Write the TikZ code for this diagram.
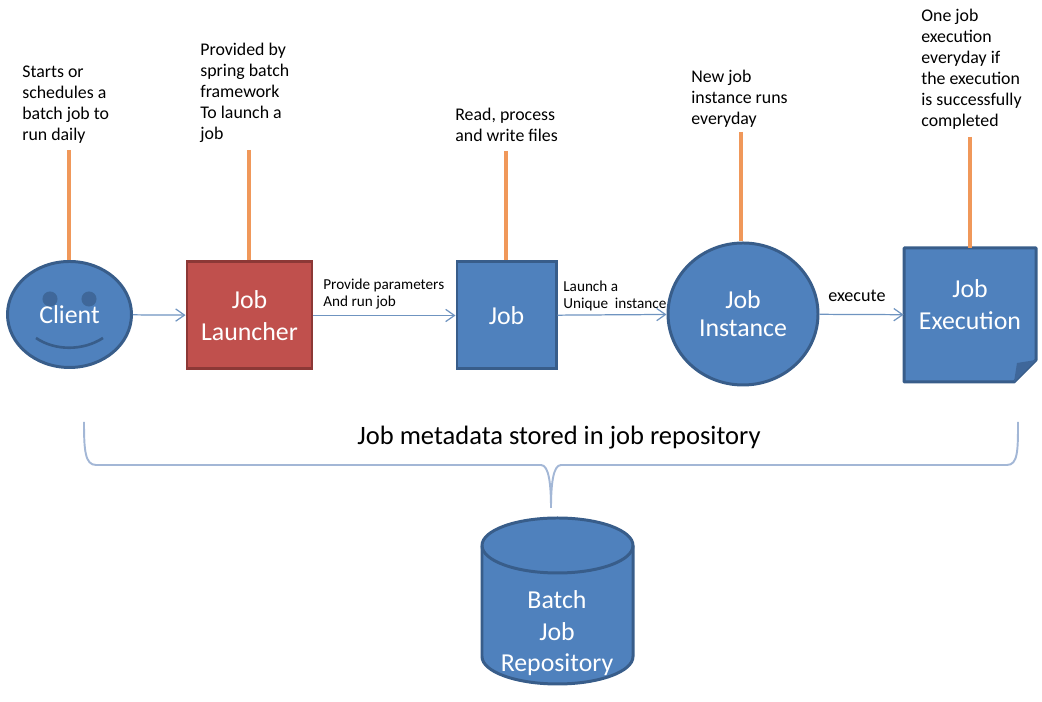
\documentclass[tikz,border=0pt]{standalone}
\usepackage{fontspec}
\setmainfont{Carlito}
\usetikzlibrary{shapes.geometric,arrows.meta}
\definecolor{boxblue}{HTML}{4F81BD}
\definecolor{boxline}{HTML}{385D8A}
\definecolor{boxred}{HTML}{C0504D}
\definecolor{redline}{HTML}{8C3836}
\definecolor{stem}{HTML}{F0985A}
\definecolor{flow}{HTML}{6F94C0}
\definecolor{brace}{HTML}{A3B7D6}
\definecolor{fold}{HTML}{3F679A}
\tikzset{
  bigtext/.style={text=white,font=\fontsize{14.7}{17.9}\selectfont,align=center,inner sep=0pt},
  bluebox/.style={bigtext,draw=boxline,fill=boxblue,line width=1.7pt},
  note/.style={right,inner sep=0pt,align=left,font=\fontsize{10.15}{11.95}\selectfont},
  small/.style={right,inner sep=0pt,align=left,font=\fontsize{8.65}{9.2}\selectfont},
  stemline/.style={stem,line width=2.5pt},
  flowline/.style={flow,line width=0.7pt,-{Straight Barb[length=5pt,width=7pt]}},
}
\begin{document}
\begin{tikzpicture}
\useasboundingbox (0,0) rectangle (20.84,14.04);

% 1st tier:
\node[bluebox,ellipse,minimum width=2.48cm,minimum height=2.12cm] (client) at (1.39,7.75) {Client};
\fill[fold,draw=boxline!70!boxblue,line width=0.6pt] (1,8.06) circle (0.14);
\fill[fold,draw=boxline!70!boxblue,line width=0.6pt] (1.78,8.06) circle (0.14);
\draw[boxline,line width=1.5pt] (0.72,7.28) .. controls (1.1,7.02) and (1.66,7.02) .. (2.06,7.28);

\node[bluebox,fill=boxred,draw=redline,minimum width=2.5cm,minimum height=2.14cm,font=\fontsize{14.7}{18.6}\selectfont] (launcher) at (4.99,7.73) {Job\\Launcher};
\node[bluebox,minimum width=1.98cm,minimum height=2.14cm] (job) at (10.13,7.73) {Job};
\node[bluebox,ellipse,minimum width=3cm,minimum height=2.84cm,font=\fontsize{14.7}{16}\selectfont] (instance) at (14.86,7.76) {Job\\Instance};

\draw[boxline,fill=boxblue,line width=1.7pt,line join=round] (18.08,9.08) -- (20.72,9.08) -- (20.72,6.84) -- (20.28,6.4) -- (18.08,6.4) -- cycle;
\fill[fold] (20.72,6.84) -- (20.34,6.78) -- (20.28,6.4) -- cycle;
\node[minimum width=2.64cm,minimum height=2.68cm,inner sep=0pt] (execution) at (19.4,7.74) {};
\node[bigtext,font=\fontsize{14.7}{18.2}\selectfont] (executiontext) at (19.4,7.94) {Job\\Execution};

\draw[flowline] (client) -- (launcher);
\draw[flowline] (launcher) -- (job);
\draw[flowline] (job) -- (instance);
\draw[flowline] (instance) -- (execution);

\node[small] (run) at (6.46,8.16) {Provide parameters\\And run job};
\node[small] (unique) at (11.26,8.12) {Launch a\\Unique\ \ instance};
\node[small,font=\fontsize{10.3}{11}\selectfont] (exec) at (16.56,8.12) {execute};

% top tier:
\node[note] (startsnote) at (0.44,11.94) {Starts or\\schedules a\\batch job to\\run daily};
\node[note] (springnote) at (4,12.18) {Provided by\\spring batch\\framework\\To launch a\\job};
\node[note] (filesnote) at (9.1,11.54) {Read, process\\and write files};
\node[note] (dailynote) at (13.82,12.06) {New job\\instance runs\\everyday};
\node[note] (oncenote) at (18.42,12.66) {One job\\execution\\everyday if\\the execution\\is successfully\\completed};

\coordinate (clienttop) at (1.38,11.04);
\coordinate (launchertop) at (4.98,11.04);
\coordinate (jobtop) at (10.12,11.02);
\coordinate (instancetop) at (14.82,11.4);
\coordinate (executiontop) at (19.4,11.3);

\draw[stemline] (clienttop) -- (clienttop |- client.north);
\draw[stemline] (launchertop) -- (launchertop |- launcher.north);
\draw[stemline] (jobtop) -- (jobtop |- job.north);
\draw[stemline] (instancetop) -- (instancetop |- instance.north);
\draw[stemline] (executiontop) -- (executiontop |- execution.north);

% repository:
\node[font=\fontsize{15.1}{16}\selectfont,inner sep=0pt] (stored) at (11.18,5.28) {Job metadata stored in job repository};

\coordinate (braceleft) at (1.68,5.6);
\coordinate (bracetip) at (11.02,3.88);
\coordinate (braceright) at (20.36,5.6);
\draw[brace,line width=1.1pt] (braceleft) .. controls (1.68,5.04) and (1.7,4.74) .. (1.92,4.74) -- (10.82,4.74)
  .. controls (10.98,4.74) and (11.02,4.34) .. (bracetip) .. controls (11.02,4.34) and (11.06,4.74) .. (11.22,4.74)
  -- (20.14,4.74) .. controls (20.36,4.74) and (20.36,5.04) .. (braceright);

\draw[boxline,fill=boxblue,line width=1.7pt] (9.64,3.13) -- (9.64,0.91) arc (180:360:1.51 and 0.55) -- (12.66,3.13) arc (0:180:1.51 and 0.55) -- cycle;
\draw[boxline,line width=1.7pt] (9.64,3.13) arc (180:360:1.51 and 0.55);
\node[bigtext] (repo) at (11.14,1.37) {Batch\\Job\\Repository};

\end{tikzpicture}
\end{document}
